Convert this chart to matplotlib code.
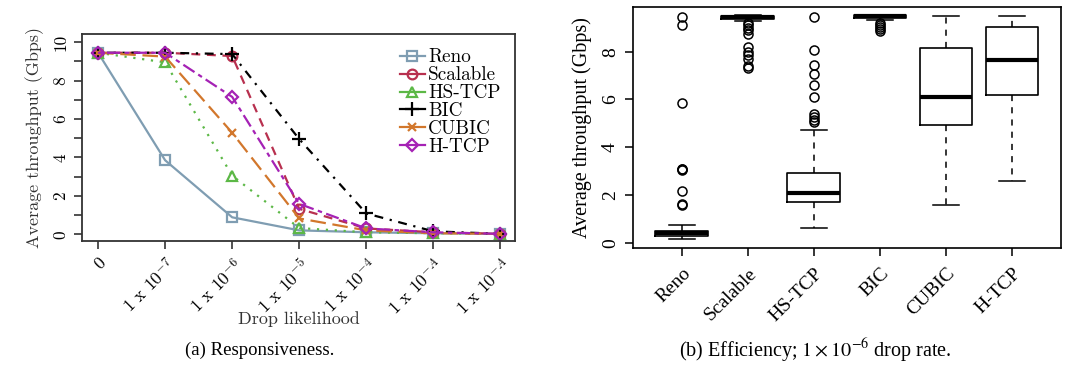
import numpy as np
import matplotlib
matplotlib.use('Agg')
from matplotlib import pyplot as plt

# ---- data: (a) responsiveness ----
drop_labels = ['0', '1 x 10$^{-7}$', '1 x 10$^{-6}$', '1 x 10$^{-5}$',
               '1 x 10$^{-4}$', '1 x 10$^{-A}$', '1 x 10$^{-A}$']
reno_tp     = [9.45, 3.85, 0.88, 0.20, 0.10, 0.05, 0.02]
scalable_tp = [9.45, 9.45, 9.28, 1.32, 0.30, 0.10, 0.02]
hstcp_tp    = [9.45, 8.95, 3.05, 0.32, 0.10, 0.05, 0.02]
bic_tp      = [9.45, 9.45, 9.38, 4.95, 1.08, 0.15, 0.02]
cubic_tp    = [9.45, 9.25, 5.28, 0.82, 0.20, 0.05, 0.02]
htcp_tp     = [9.45, 9.45, 7.15, 1.58, 0.30, 0.10, 0.02]

# ---- data: (b) efficiency boxplots at 1e-6 drop rate ----
protocols = ['Reno', 'Scalable', 'HS-TCP', 'BIC', 'CUBIC', 'H-TCP']
box_q1     = [0.30, 9.36, 1.70, 9.42, 4.92, 6.20]
box_med    = [0.40, 9.45, 2.08, 9.48, 6.12, 7.67]
box_q3     = [0.48, 9.50, 2.93, 9.52, 8.15, 9.03]
box_whislo = [0.16, 9.28, 0.62, 9.32, 1.60, 2.60]
box_whishi = [0.74, 9.52, 4.74, 9.53, 9.50, 9.50]
box_fliers = [
    [9.45, 9.10, 5.85, 3.10, 3.08, 3.05, 2.17, 1.62, 1.58],
    [9.20, 9.10, 9.00, 8.90, 8.75, 8.20, 8.00, 7.85, 7.70, 7.40, 7.30],
    [9.45, 8.05, 7.45, 7.05, 6.60, 6.10, 5.40, 5.28, 5.15, 5.05],
    [9.22, 9.12, 9.02, 8.93, 8.85],
    [],
    [],
]

SERIF_A = ['cmr10', 'DejaVu Serif']
SERIF_B = ['Liberation Serif', 'DejaVu Serif']
plt.rcParams['axes.unicode_minus'] = False

fig = plt.figure(figsize=(10.83, 3.67), dpi=100)

# ================= left panel =================
ax1 = fig.add_axes([0.0757, 0.343, 0.400, 0.564])
x = np.arange(len(drop_labels))
series = [
    ('Reno', reno_tp, '#7f9db2', 's', '-'),
    ('Scalable', scalable_tp, '#b8304f', 'o', (0, (4, 3))),
    ('HS-TCP', hstcp_tp, '#5cb846', '^', (0, (1, 3))),
    ('BIC', bic_tp, 'black', '+', (0, (1, 3, 4, 3))),
    ('CUBIC', cubic_tp, '#d2772c', 'x', (0, (7, 3))),
    ('H-TCP', htcp_tp, '#a522b5', 'D', (0, (2, 2, 6, 2))),
]
for name, vals, col, mk, ls in series:
    ms = 10 if mk == '+' else (6 if mk in ('D', 'x') else 7)
    ax1.plot(x, vals, color=col, linestyle=ls, linewidth=1.6, marker=mk,
             markersize=ms, markerfacecolor='none', markeredgewidth=1.6,
             label=name)

ax1.set_xlim(-0.24, 6.22)
ax1.set_ylim(-0.36, 10.42)
ax1.set_xticks(x)
ax1.set_xticklabels(drop_labels, rotation=45, ha='right', va='top',
                    rotation_mode='anchor', fontsize=12.8, family=SERIF_A,
                    math_fontfamily='cm')
ax1.set_yticks(np.arange(0, 11, 1))
ax1.set_yticklabels([str(v) if v % 2 == 0 else '' for v in range(11)],
                    rotation=90, va='center', fontsize=12.5, family=SERIF_A)
ax1.tick_params(direction='out', length=6, width=1.2, color='#333333', pad=4)
ax1.tick_params(axis='x', pad=4)
for sp in ax1.spines.values():
    sp.set_linewidth(1.3)
    sp.set_color('#333333')
ax1.set_xlabel('Drop likelihood', fontsize=13, family=SERIF_A, labelpad=-5,
               color='#333333')
ax1.set_ylabel('Average throughput (Gbps)', fontsize=13, family=SERIF_A,
               labelpad=6, color='#333333')
leg = ax1.legend(loc='upper right', frameon=False,
                 handlelength=1.35, handletextpad=0.15, labelspacing=0.0,
                 borderaxespad=0.35, prop={'family': SERIF_A, 'size': 13.8})
for h in leg.get_lines():
    h.set_linestyle('-')

fig.text(0.24, 0.045, '(a) Responsiveness.', ha='center', va='center',
         fontsize=13.5, family=SERIF_B)

# ================= right panel =================
ax2 = fig.add_axes([0.5845, 0.324, 0.395, 0.657])
stats = []
for i in range(len(protocols)):
    stats.append(dict(q1=box_q1[i], med=box_med[i], q3=box_q3[i],
                      whislo=box_whislo[i], whishi=box_whishi[i],
                      fliers=box_fliers[i], label=protocols[i]))
pos = np.arange(1, len(protocols) + 1)
ax2.bxp(stats, positions=pos, widths=0.8, capwidths=0.4,
        boxprops=dict(color='black', linewidth=1.2),
        medianprops=dict(color='black', linewidth=3),
        whiskerprops=dict(color='black', linewidth=1.1, linestyle=(0, (4, 4))),
        capprops=dict(color='black', linewidth=1.1),
        flierprops=dict(marker='o', markersize=6.5, markerfacecolor='none',
                        markeredgecolor='black', markeredgewidth=1.1))
ax2.set_xlim(0.26, 6.74)
ax2.set_ylim(-0.22, 9.87)
ax2.set_xticks(pos)
ax2.set_xticklabels(protocols, rotation=45, ha='right', va='top',
                    rotation_mode='anchor', fontsize=14, family=SERIF_B)
ax2.set_yticks([0, 2, 4, 6, 8])
ax2.set_yticklabels(['0', '2', '4', '6', '8'], rotation=90, va='center',
                    fontsize=14, family=SERIF_B)
ax2.tick_params(direction='out', length=6, width=1.1, pad=4)
ax2.tick_params(axis='x', pad=6)
for sp in ax2.spines.values():
    sp.set_linewidth(1.2)
ax2.set_ylabel('Average throughput (Gbps)', fontsize=14.5, family=SERIF_B,
               labelpad=7)

fig.text(0.753, 0.045, r'(b) Efficiency; $1\times10^{-6}$ drop rate.',
         ha='center', va='center', fontsize=14.5, family=SERIF_B,
         math_fontfamily='stix')

fig.savefig('out.png', dpi=100)
